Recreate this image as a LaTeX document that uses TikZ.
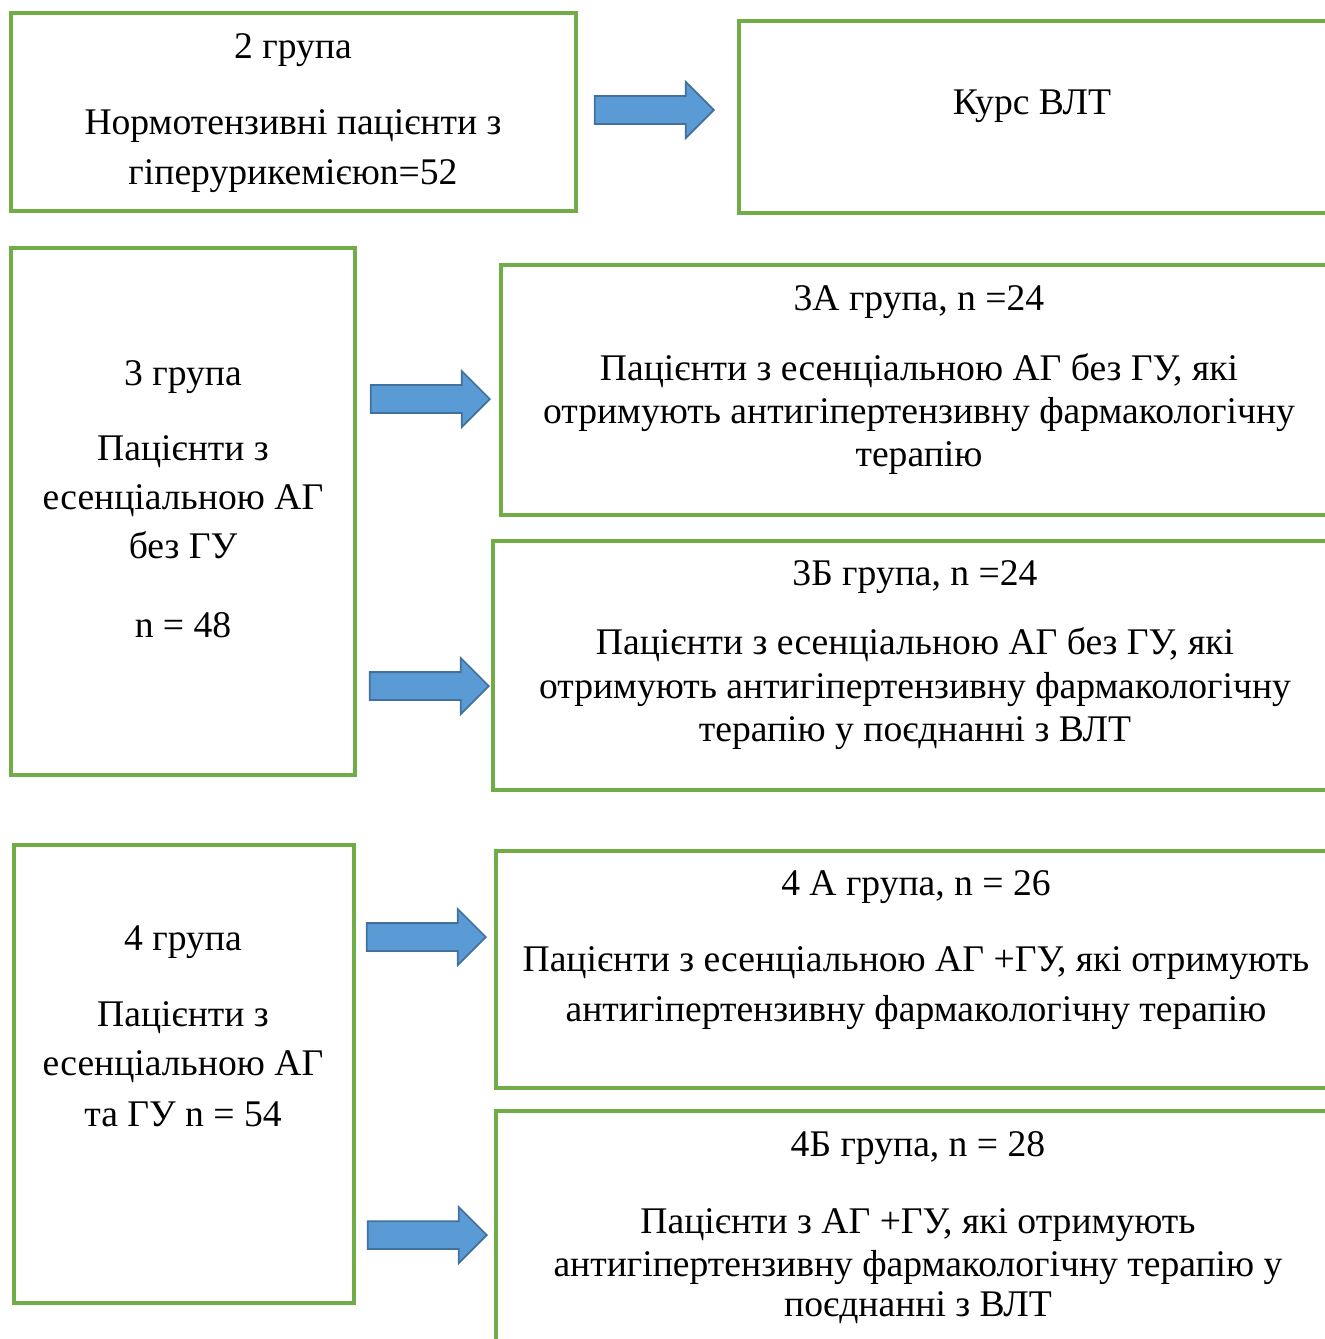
\documentclass[tikz,border=0pt]{standalone}
\usepackage{fontspec}
\setmainfont{Liberation Serif}
\usetikzlibrary{shapes.arrows, fit}
\definecolor{boxgreen}{HTML}{70AD47}
\definecolor{arrowfill}{HTML}{5B9BD5}
\definecolor{arrowline}{HTML}{41719C}
\tikzset{
    grpbox/.style={
        rectangle, draw=boxgreen, line width=0.9pt,
        inner sep=0pt, fill=white
    },
    grptext/.style={
        align=center, inner sep=0pt,
        font=\fontsize{10.7}{12.3}\selectfont
    },
    blockarrow/.style={
        single arrow, draw=arrowline, fill=arrowfill, line width=0.5pt,
        minimum height=1.19cm, text height=0.13cm, text depth=0.13cm,
        single arrow head extend=0.14cm, inner sep=0pt, anchor=tip
    }
}

\begin{document}
\begin{tikzpicture}[x=0.01cm, y=-0.01cm]
    \clip (0,0) rectangle (1325,1339);

    % boxes
    \node[grpbox, fit={(11,13) (576,211)}] (g2) {};
    \node[grpbox, fit={(739,21) (1345,213)}] (vlt) {};
    \node[grpbox, fit={(11,248) (355,775)}] (g3) {};
    \node[grpbox, fit={(501,265) (1345,515)}] (g3a) {};
    \node[grpbox, fit={(493,541) (1345,790)}] (g3b) {};
    \node[grpbox, fit={(14,845) (354,1303)}] (g4) {};
    \node[grpbox, fit={(496,851) (1345,1088)}] (g4a) {};
    \node[grpbox, fit={(496,1111) (1345,1370)}] (g4b) {};

    % texts
    \node[grptext] (t2) at (293,113) {2 група\\[9.4pt]
        Нормотензивні пацієнти з\\[2pt] гіперурикемієюn=52};
    \node[grptext] (tvlt) at (1032,106) {Курс ВЛТ};
    \node[grptext] (t3) at (183,499) {3 група\\[9.1pt]
        Пацієнти з\\[1.7pt] есенціальною АГ\\[1.7pt] без ГУ\\[10pt] n = 48};
    \node[grptext] (t3a) at (919,380) {3А група, n =24\\[7.7pt]
        Пацієнти з есенціальною АГ без ГУ, які\\
        отримують антигіпертензивну фармакологічну\\ терапію};
    \node[grptext] (t3b) at (915,655) {3Б група, n =24\\[7.4pt]
        Пацієнти з есенціальною АГ без ГУ, які\\
        отримують антигіпертензивну фармакологічну\\ терапію у поєднанні з ВЛТ};
    \node[grptext] (t4) at (183,1026) {4 група\\[9.4pt]
        Пацієнти з\\[1.7pt] есенціальною АГ\\[2pt] та ГУ n = 54};
    \node[grptext] (t4a) at (916,950) {4 А група, n = 26\\[9.4pt]
        Пацієнти з есенціальною АГ +ГУ, які отримують\\[2pt]
        антигіпертензивну фармакологічну терапію};
    \node[grptext] (t4b) at (918,1227.5) {4Б група, n = 28\\[9.7pt]
        Пацієнти з АГ +ГУ, які отримують\\
        антигіпертензивну фармакологічну терапію у\\[-0.9pt] поєднанні з ВЛТ};

    % arrows
    \node[blockarrow] (a2) at (715,110) {};
    \node[blockarrow] (a3a) at (491,399) {};
    \node[blockarrow] (a3b) at (490,686) {};
    \node[blockarrow] (a4a) at (487,937) {};
    \node[blockarrow] (a4b) at (488,1235) {};
\end{tikzpicture}
\end{document}
